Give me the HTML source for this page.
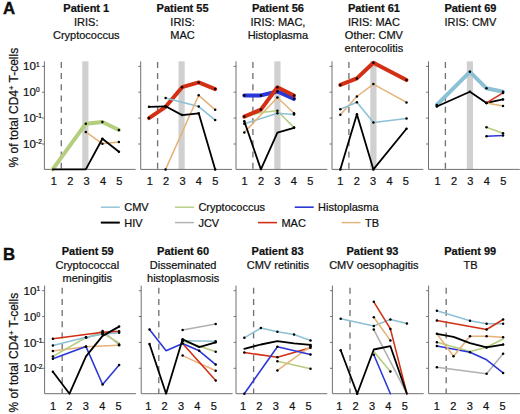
<!DOCTYPE html>
<html><head><meta charset="utf-8"><style>
html,body{margin:0;padding:0;background:#fff;}
body{width:520px;height:414px;overflow:hidden;}
svg{display:block;}
text{font-family:"Liberation Sans",sans-serif;fill:#111;stroke:#111;stroke-width:0.22px;}
.t{font-size:11px;}
.tb{font-size:11px;font-weight:bold;}
.sup{font-size:6.6px;}
.tl{font-size:11.6px;}
.sup2{font-size:7.5px;}
.yl{font-size:12px;}
.pl{font-size:16.8px;font-weight:bold;stroke:#000;stroke-width:0.35px;}
</style></head><body>
<svg width="520" height="414" viewBox="0 0 520 414">
<rect width="520" height="414" fill="#fff"/>
<rect x="82.25" y="61.3" width="6.2" height="108.1" fill="#d0d0d0"/>
<line x1="61.3" y1="61.9" x2="61.3" y2="169.4" stroke="#737373" stroke-width="1.35" stroke-dasharray="6 5.2"/>
<rect x="178.50" y="61.3" width="6.2" height="108.1" fill="#d0d0d0"/>
<line x1="157.6" y1="61.9" x2="157.6" y2="169.4" stroke="#737373" stroke-width="1.35" stroke-dasharray="6 5.2"/>
<rect x="274.30" y="61.3" width="6.2" height="108.1" fill="#d0d0d0"/>
<line x1="252.9" y1="61.9" x2="252.9" y2="169.4" stroke="#737373" stroke-width="1.35" stroke-dasharray="6 5.2"/>
<rect x="370.30" y="61.3" width="6.2" height="108.1" fill="#d0d0d0"/>
<line x1="348.9" y1="61.9" x2="348.9" y2="169.4" stroke="#737373" stroke-width="1.35" stroke-dasharray="6 5.2"/>
<rect x="466.80" y="61.3" width="6.2" height="108.1" fill="#d0d0d0"/>
<line x1="445.4" y1="61.9" x2="445.4" y2="169.4" stroke="#737373" stroke-width="1.35" stroke-dasharray="6 5.2"/>
<line x1="44.4" y1="61.3" x2="44.4" y2="169.4" stroke="#707070" stroke-width="1"/>
<line x1="44.4" y1="169.4" x2="135.7" y2="169.4" stroke="#707070" stroke-width="1"/>
<line x1="42.0" y1="66.4" x2="44.4" y2="66.4" stroke="#707070" stroke-width="1"/>
<line x1="42.0" y1="92.2" x2="44.4" y2="92.2" stroke="#707070" stroke-width="1"/>
<line x1="42.0" y1="118.1" x2="44.4" y2="118.1" stroke="#707070" stroke-width="1"/>
<line x1="42.0" y1="144.0" x2="44.4" y2="144.0" stroke="#707070" stroke-width="1"/>
<text x="53.8" y="184.9" class="t" text-anchor="middle">1</text>
<text x="70.2" y="184.9" class="t" text-anchor="middle">2</text>
<text x="86.6" y="184.9" class="t" text-anchor="middle">3</text>
<text x="103.0" y="184.9" class="t" text-anchor="middle">4</text>
<text x="119.4" y="184.9" class="t" text-anchor="middle">5</text>
<text x="35.9" y="70.1" class="tl" text-anchor="end">10</text>
<text x="36.0" y="66.6" class="sup">1</text>
<text x="35.9" y="95.9" class="tl" text-anchor="end">10</text>
<text x="36.0" y="92.4" class="sup">0</text>
<text x="35.9" y="121.8" class="tl" text-anchor="end">10</text>
<text x="36.0" y="118.3" class="sup">-1</text>
<text x="35.9" y="147.7" class="tl" text-anchor="end">10</text>
<text x="36.0" y="144.2" class="sup">-2</text>
<text x="86.3" y="11.5" class="tb" text-anchor="middle">Patient 1</text>
<text x="86.3" y="26.0" class="t" text-anchor="middle">IRIS:</text>
<text x="86.3" y="39.1" class="t" text-anchor="middle">Cryptococcus</text>
<line x1="140.7" y1="61.3" x2="140.7" y2="169.4" stroke="#707070" stroke-width="1"/>
<line x1="140.7" y1="169.4" x2="232.0" y2="169.4" stroke="#707070" stroke-width="1"/>
<line x1="138.3" y1="66.4" x2="140.7" y2="66.4" stroke="#707070" stroke-width="1"/>
<line x1="138.3" y1="92.2" x2="140.7" y2="92.2" stroke="#707070" stroke-width="1"/>
<line x1="138.3" y1="118.1" x2="140.7" y2="118.1" stroke="#707070" stroke-width="1"/>
<line x1="138.3" y1="144.0" x2="140.7" y2="144.0" stroke="#707070" stroke-width="1"/>
<text x="149.7" y="184.9" class="t" text-anchor="middle">1</text>
<text x="166.1" y="184.9" class="t" text-anchor="middle">2</text>
<text x="182.5" y="184.9" class="t" text-anchor="middle">3</text>
<text x="198.9" y="184.9" class="t" text-anchor="middle">4</text>
<text x="215.3" y="184.9" class="t" text-anchor="middle">5</text>
<text x="182.6" y="11.5" class="tb" text-anchor="middle">Patient 55</text>
<text x="182.6" y="26.0" class="t" text-anchor="middle">IRIS:</text>
<text x="182.6" y="39.1" class="t" text-anchor="middle">MAC</text>
<line x1="236.0" y1="61.3" x2="236.0" y2="169.4" stroke="#707070" stroke-width="1"/>
<line x1="236.0" y1="169.4" x2="327.3" y2="169.4" stroke="#707070" stroke-width="1"/>
<line x1="233.6" y1="66.4" x2="236.0" y2="66.4" stroke="#707070" stroke-width="1"/>
<line x1="233.6" y1="92.2" x2="236.0" y2="92.2" stroke="#707070" stroke-width="1"/>
<line x1="233.6" y1="118.1" x2="236.0" y2="118.1" stroke="#707070" stroke-width="1"/>
<line x1="233.6" y1="144.0" x2="236.0" y2="144.0" stroke="#707070" stroke-width="1"/>
<text x="244.6" y="184.9" class="t" text-anchor="middle">1</text>
<text x="261.0" y="184.9" class="t" text-anchor="middle">2</text>
<text x="277.4" y="184.9" class="t" text-anchor="middle">3</text>
<text x="293.8" y="184.9" class="t" text-anchor="middle">4</text>
<text x="310.2" y="184.9" class="t" text-anchor="middle">5</text>
<text x="277.9" y="11.5" class="tb" text-anchor="middle">Patient 56</text>
<text x="277.9" y="26.0" class="t" text-anchor="middle">IRIS: MAC,</text>
<text x="277.9" y="39.1" class="t" text-anchor="middle">Histoplasma</text>
<line x1="332.0" y1="61.3" x2="332.0" y2="169.4" stroke="#707070" stroke-width="1"/>
<line x1="332.0" y1="169.4" x2="423.3" y2="169.4" stroke="#707070" stroke-width="1"/>
<line x1="329.6" y1="66.4" x2="332.0" y2="66.4" stroke="#707070" stroke-width="1"/>
<line x1="329.6" y1="92.2" x2="332.0" y2="92.2" stroke="#707070" stroke-width="1"/>
<line x1="329.6" y1="118.1" x2="332.0" y2="118.1" stroke="#707070" stroke-width="1"/>
<line x1="329.6" y1="144.0" x2="332.0" y2="144.0" stroke="#707070" stroke-width="1"/>
<text x="340.3" y="184.9" class="t" text-anchor="middle">1</text>
<text x="356.7" y="184.9" class="t" text-anchor="middle">2</text>
<text x="373.1" y="184.9" class="t" text-anchor="middle">3</text>
<text x="389.5" y="184.9" class="t" text-anchor="middle">4</text>
<text x="405.9" y="184.9" class="t" text-anchor="middle">5</text>
<text x="373.9" y="11.5" class="tb" text-anchor="middle">Patient 61</text>
<text x="373.9" y="26.0" class="t" text-anchor="middle">IRIS: MAC</text>
<text x="373.9" y="39.1" class="t" text-anchor="middle">Other: CMV</text>
<text x="373.9" y="52.2" class="t" text-anchor="middle">enterocolitis</text>
<line x1="428.5" y1="61.3" x2="428.5" y2="169.4" stroke="#707070" stroke-width="1"/>
<line x1="428.5" y1="169.4" x2="519.8" y2="169.4" stroke="#707070" stroke-width="1"/>
<line x1="426.1" y1="66.4" x2="428.5" y2="66.4" stroke="#707070" stroke-width="1"/>
<line x1="426.1" y1="92.2" x2="428.5" y2="92.2" stroke="#707070" stroke-width="1"/>
<line x1="426.1" y1="118.1" x2="428.5" y2="118.1" stroke="#707070" stroke-width="1"/>
<line x1="426.1" y1="144.0" x2="428.5" y2="144.0" stroke="#707070" stroke-width="1"/>
<text x="437.6" y="184.9" class="t" text-anchor="middle">1</text>
<text x="454.0" y="184.9" class="t" text-anchor="middle">2</text>
<text x="470.4" y="184.9" class="t" text-anchor="middle">3</text>
<text x="486.8" y="184.9" class="t" text-anchor="middle">4</text>
<text x="503.2" y="184.9" class="t" text-anchor="middle">5</text>
<text x="470.4" y="11.5" class="tb" text-anchor="middle">Patient 69</text>
<text x="470.4" y="26.0" class="t" text-anchor="middle">IRIS: CMV</text>
<polyline points="52.7,169.4 85.8,123.7 102.4,122.0 118.9,130.0" fill="none" stroke="#b5cd7e" stroke-width="4.00" stroke-linejoin="round" stroke-linecap="round"/>
<polyline points="85.8,131.9 102.4,143.8 118.9,142.1" fill="none" stroke="#e6b278" stroke-width="1.55" stroke-linejoin="round" stroke-linecap="round"/>
<polyline points="52.7,169.4 85.8,169.4 102.4,138.7 118.9,151.7" fill="none" stroke="#000000" stroke-width="1.80" stroke-linejoin="round" stroke-linecap="round"/>
<circle cx="85.8" cy="123.7" r="1.25" fill="#000"/>
<circle cx="102.4" cy="122.0" r="1.25" fill="#000"/>
<circle cx="118.9" cy="130.0" r="1.25" fill="#000"/>
<circle cx="85.8" cy="131.9" r="1.25" fill="#000"/>
<circle cx="102.4" cy="143.8" r="1.25" fill="#000"/>
<circle cx="118.9" cy="142.1" r="1.25" fill="#000"/>
<circle cx="102.4" cy="138.7" r="1.25" fill="#000"/>
<circle cx="118.9" cy="151.7" r="1.25" fill="#000"/>
<polyline points="149.0,118.1 165.6,106.8 182.1,87.2 198.7,82.4 215.2,89.1" fill="none" stroke="#d22f14" stroke-width="4.00" stroke-linejoin="round" stroke-linecap="round"/>
<polyline points="165.6,98.0 198.7,106.6 215.2,120.1" fill="none" stroke="#8cc1d5" stroke-width="1.55" stroke-linejoin="round" stroke-linecap="round"/>
<polyline points="165.6,169.4 198.7,95.3 215.2,109.8" fill="none" stroke="#e6b278" stroke-width="1.55" stroke-linejoin="round" stroke-linecap="round"/>
<polyline points="149.0,106.8 165.6,106.3 182.1,115.1 198.7,113.3 215.2,169.4" fill="none" stroke="#000000" stroke-width="1.80" stroke-linejoin="round" stroke-linecap="round"/>
<circle cx="149.0" cy="118.1" r="1.25" fill="#000"/>
<circle cx="165.6" cy="106.8" r="1.25" fill="#000"/>
<circle cx="182.1" cy="87.2" r="1.25" fill="#000"/>
<circle cx="198.7" cy="82.4" r="1.25" fill="#000"/>
<circle cx="215.2" cy="89.1" r="1.25" fill="#000"/>
<circle cx="165.6" cy="98.0" r="1.25" fill="#000"/>
<circle cx="198.7" cy="106.6" r="1.25" fill="#000"/>
<circle cx="215.2" cy="120.1" r="1.25" fill="#000"/>
<circle cx="165.6" cy="169.4" r="1.25" fill="#000"/>
<circle cx="198.7" cy="95.3" r="1.25" fill="#000"/>
<circle cx="215.2" cy="109.8" r="1.25" fill="#000"/>
<circle cx="149.0" cy="106.8" r="1.25" fill="#000"/>
<circle cx="165.6" cy="106.3" r="1.25" fill="#000"/>
<circle cx="182.1" cy="115.1" r="1.25" fill="#000"/>
<circle cx="198.7" cy="113.3" r="1.25" fill="#000"/>
<circle cx="215.2" cy="169.4" r="1.25" fill="#000"/>
<polyline points="244.3,117.0 260.9,112.5 277.4,110.8 294.0,127.6" fill="none" stroke="#b5cd7e" stroke-width="1.55" stroke-linejoin="round" stroke-linecap="round"/>
<polyline points="244.3,123.8 277.4,113.3 294.0,114.5" fill="none" stroke="#8cc1d5" stroke-width="1.55" stroke-linejoin="round" stroke-linecap="round"/>
<polyline points="244.3,132.4 277.4,97.5 294.0,113.2" fill="none" stroke="#e6b278" stroke-width="1.55" stroke-linejoin="round" stroke-linecap="round"/>
<polyline points="244.3,121.3 260.9,169.4 277.4,132.6 294.0,127.8" fill="none" stroke="#000000" stroke-width="1.80" stroke-linejoin="round" stroke-linecap="round"/>
<polyline points="244.3,95.4 260.9,95.4 277.4,91.5 294.0,98.8" fill="none" stroke="#2a36d6" stroke-width="4.00" stroke-linejoin="round" stroke-linecap="round"/>
<polyline points="244.3,116.6 260.9,109.6 277.4,87.3 294.0,95.5" fill="none" stroke="#d22f14" stroke-width="4.00" stroke-linejoin="round" stroke-linecap="round"/>
<circle cx="277.4" cy="110.8" r="1.25" fill="#000"/>
<circle cx="294.0" cy="127.6" r="1.25" fill="#000"/>
<circle cx="244.3" cy="123.8" r="1.25" fill="#000"/>
<circle cx="277.4" cy="113.3" r="1.25" fill="#000"/>
<circle cx="294.0" cy="114.5" r="1.25" fill="#000"/>
<circle cx="244.3" cy="132.4" r="1.25" fill="#000"/>
<circle cx="277.4" cy="97.5" r="1.25" fill="#000"/>
<circle cx="294.0" cy="113.2" r="1.25" fill="#000"/>
<circle cx="244.3" cy="121.3" r="1.25" fill="#000"/>
<circle cx="294.0" cy="127.8" r="1.25" fill="#000"/>
<circle cx="244.3" cy="95.4" r="1.25" fill="#000"/>
<circle cx="260.9" cy="95.4" r="1.25" fill="#000"/>
<circle cx="277.4" cy="91.5" r="1.25" fill="#000"/>
<circle cx="294.0" cy="98.8" r="1.25" fill="#000"/>
<circle cx="244.3" cy="116.6" r="1.25" fill="#000"/>
<circle cx="260.9" cy="109.6" r="1.25" fill="#000"/>
<circle cx="277.4" cy="87.3" r="1.25" fill="#000"/>
<circle cx="294.0" cy="95.5" r="1.25" fill="#000"/>
<polyline points="340.3,114.7 356.9,96.5 373.4,84.1 406.5,102.4" fill="none" stroke="#e6b278" stroke-width="1.55" stroke-linejoin="round" stroke-linecap="round"/>
<polyline points="340.3,109.2 356.9,102.3 373.4,122.6 406.5,118.6" fill="none" stroke="#8cc1d5" stroke-width="1.55" stroke-linejoin="round" stroke-linecap="round"/>
<polyline points="340.3,169.4 356.9,114.2 373.4,169.4 406.5,128.8" fill="none" stroke="#000000" stroke-width="1.80" stroke-linejoin="round" stroke-linecap="round"/>
<polyline points="340.3,84.9 356.9,78.4 373.4,62.8 406.5,80.1" fill="none" stroke="#d22f14" stroke-width="4.00" stroke-linejoin="round" stroke-linecap="round"/>
<circle cx="340.3" cy="114.7" r="1.25" fill="#000"/>
<circle cx="356.9" cy="96.5" r="1.25" fill="#000"/>
<circle cx="373.4" cy="84.1" r="1.25" fill="#000"/>
<circle cx="406.5" cy="102.4" r="1.25" fill="#000"/>
<circle cx="340.3" cy="109.2" r="1.25" fill="#000"/>
<circle cx="356.9" cy="102.3" r="1.25" fill="#000"/>
<circle cx="373.4" cy="122.6" r="1.25" fill="#000"/>
<circle cx="406.5" cy="118.6" r="1.25" fill="#000"/>
<circle cx="340.3" cy="169.4" r="1.25" fill="#000"/>
<circle cx="356.9" cy="114.2" r="1.25" fill="#000"/>
<circle cx="373.4" cy="169.4" r="1.25" fill="#000"/>
<circle cx="406.5" cy="128.8" r="1.25" fill="#000"/>
<circle cx="340.3" cy="84.9" r="1.25" fill="#000"/>
<circle cx="356.9" cy="78.4" r="1.25" fill="#000"/>
<circle cx="373.4" cy="62.8" r="1.25" fill="#000"/>
<circle cx="406.5" cy="80.1" r="1.25" fill="#000"/>
<polyline points="436.8,104.9 469.9,71.8 486.5,88.3 503.0,91.8" fill="none" stroke="#8cc1d5" stroke-width="4.00" stroke-linejoin="round" stroke-linecap="round"/>
<polyline points="436.8,106.5 469.9,91.7 486.5,102.9 503.0,99.4" fill="none" stroke="#000000" stroke-width="1.80" stroke-linejoin="round" stroke-linecap="round"/>
<polyline points="486.5,102.9 503.0,92.9" fill="none" stroke="#d22f14" stroke-width="1.55" stroke-linejoin="round" stroke-linecap="round"/>
<polyline points="486.5,102.9 503.0,106.0" fill="none" stroke="#e6b278" stroke-width="1.55" stroke-linejoin="round" stroke-linecap="round"/>
<polyline points="486.5,127.2 503.0,133.2" fill="none" stroke="#b5cd7e" stroke-width="1.55" stroke-linejoin="round" stroke-linecap="round"/>
<polyline points="486.5,136.2 503.0,135.4" fill="none" stroke="#2a36d6" stroke-width="1.55" stroke-linejoin="round" stroke-linecap="round"/>
<circle cx="436.8" cy="104.9" r="1.25" fill="#000"/>
<circle cx="469.9" cy="71.8" r="1.25" fill="#000"/>
<circle cx="486.5" cy="88.3" r="1.25" fill="#000"/>
<circle cx="503.0" cy="91.8" r="1.25" fill="#000"/>
<circle cx="436.8" cy="106.5" r="1.25" fill="#000"/>
<circle cx="469.9" cy="91.7" r="1.25" fill="#000"/>
<circle cx="486.5" cy="102.9" r="1.25" fill="#000"/>
<circle cx="503.0" cy="99.4" r="1.25" fill="#000"/>
<circle cx="486.5" cy="102.9" r="1.25" fill="#000"/>
<circle cx="503.0" cy="92.9" r="1.25" fill="#000"/>
<circle cx="486.5" cy="102.9" r="1.25" fill="#000"/>
<circle cx="503.0" cy="106.0" r="1.25" fill="#000"/>
<circle cx="486.5" cy="127.2" r="1.25" fill="#000"/>
<circle cx="503.0" cy="133.2" r="1.25" fill="#000"/>
<circle cx="486.5" cy="136.2" r="1.25" fill="#000"/>
<circle cx="503.0" cy="135.4" r="1.25" fill="#000"/>
<line x1="62.2" y1="287.7" x2="62.2" y2="393.7" stroke="#737373" stroke-width="1.35" stroke-dasharray="6 5.2"/>
<line x1="158.8" y1="287.7" x2="158.8" y2="393.7" stroke="#737373" stroke-width="1.35" stroke-dasharray="6 5.2"/>
<line x1="253.6" y1="287.7" x2="253.6" y2="393.7" stroke="#737373" stroke-width="1.35" stroke-dasharray="6 5.2"/>
<line x1="350.0" y1="287.7" x2="350.0" y2="393.7" stroke="#737373" stroke-width="1.35" stroke-dasharray="6 5.2"/>
<line x1="446.2" y1="287.7" x2="446.2" y2="393.7" stroke="#737373" stroke-width="1.35" stroke-dasharray="6 5.2"/>
<line x1="44.6" y1="285.6" x2="44.6" y2="393.7" stroke="#707070" stroke-width="1"/>
<line x1="44.6" y1="393.7" x2="135.9" y2="393.7" stroke="#707070" stroke-width="1"/>
<line x1="42.2" y1="290.7" x2="44.6" y2="290.7" stroke="#707070" stroke-width="1"/>
<line x1="42.2" y1="316.5" x2="44.6" y2="316.5" stroke="#707070" stroke-width="1"/>
<line x1="42.2" y1="342.4" x2="44.6" y2="342.4" stroke="#707070" stroke-width="1"/>
<line x1="42.2" y1="368.3" x2="44.6" y2="368.3" stroke="#707070" stroke-width="1"/>
<text x="53.0" y="410.1" class="t" text-anchor="middle">1</text>
<text x="69.4" y="410.1" class="t" text-anchor="middle">2</text>
<text x="85.8" y="410.1" class="t" text-anchor="middle">3</text>
<text x="102.2" y="410.1" class="t" text-anchor="middle">4</text>
<text x="118.6" y="410.1" class="t" text-anchor="middle">5</text>
<text x="36.5" y="294.8" class="tl" text-anchor="end">10</text>
<text x="36.6" y="291.3" class="sup">1</text>
<text x="36.5" y="320.6" class="tl" text-anchor="end">10</text>
<text x="36.6" y="317.1" class="sup">0</text>
<text x="36.5" y="346.5" class="tl" text-anchor="end">10</text>
<text x="36.6" y="343.0" class="sup">-1</text>
<text x="36.5" y="372.4" class="tl" text-anchor="end">10</text>
<text x="36.6" y="368.9" class="sup">-2</text>
<text x="87.7" y="254.8" class="tb" text-anchor="middle">Patient 59</text>
<text x="87.3" y="269.3" class="t" text-anchor="middle">Cryptococcal</text>
<text x="87.3" y="282.4" class="t" text-anchor="middle">meningitis</text>
<line x1="141.2" y1="285.6" x2="141.2" y2="393.7" stroke="#707070" stroke-width="1"/>
<line x1="141.2" y1="393.7" x2="232.5" y2="393.7" stroke="#707070" stroke-width="1"/>
<line x1="138.8" y1="290.7" x2="141.2" y2="290.7" stroke="#707070" stroke-width="1"/>
<line x1="138.8" y1="316.5" x2="141.2" y2="316.5" stroke="#707070" stroke-width="1"/>
<line x1="138.8" y1="342.4" x2="141.2" y2="342.4" stroke="#707070" stroke-width="1"/>
<line x1="138.8" y1="368.3" x2="141.2" y2="368.3" stroke="#707070" stroke-width="1"/>
<text x="148.2" y="410.1" class="t" text-anchor="middle">1</text>
<text x="164.6" y="410.1" class="t" text-anchor="middle">2</text>
<text x="181.0" y="410.1" class="t" text-anchor="middle">3</text>
<text x="197.4" y="410.1" class="t" text-anchor="middle">4</text>
<text x="213.8" y="410.1" class="t" text-anchor="middle">5</text>
<text x="183.1" y="254.8" class="tb" text-anchor="middle">Patient 60</text>
<text x="183.1" y="269.3" class="t" text-anchor="middle">Disseminated</text>
<text x="183.1" y="282.4" class="t" text-anchor="middle">histoplasmosis</text>
<line x1="236.0" y1="285.6" x2="236.0" y2="393.7" stroke="#707070" stroke-width="1"/>
<line x1="236.0" y1="393.7" x2="327.3" y2="393.7" stroke="#707070" stroke-width="1"/>
<line x1="233.6" y1="290.7" x2="236.0" y2="290.7" stroke="#707070" stroke-width="1"/>
<line x1="233.6" y1="316.5" x2="236.0" y2="316.5" stroke="#707070" stroke-width="1"/>
<line x1="233.6" y1="342.4" x2="236.0" y2="342.4" stroke="#707070" stroke-width="1"/>
<line x1="233.6" y1="368.3" x2="236.0" y2="368.3" stroke="#707070" stroke-width="1"/>
<text x="243.0" y="410.1" class="t" text-anchor="middle">1</text>
<text x="259.4" y="410.1" class="t" text-anchor="middle">2</text>
<text x="275.8" y="410.1" class="t" text-anchor="middle">3</text>
<text x="292.2" y="410.1" class="t" text-anchor="middle">4</text>
<text x="308.6" y="410.1" class="t" text-anchor="middle">5</text>
<text x="277.6" y="254.8" class="tb" text-anchor="middle">Patient 83</text>
<text x="277.9" y="269.3" class="t" text-anchor="middle">CMV retinitis</text>
<line x1="332.4" y1="285.6" x2="332.4" y2="393.7" stroke="#707070" stroke-width="1"/>
<line x1="332.4" y1="393.7" x2="423.7" y2="393.7" stroke="#707070" stroke-width="1"/>
<line x1="330.0" y1="290.7" x2="332.4" y2="290.7" stroke="#707070" stroke-width="1"/>
<line x1="330.0" y1="316.5" x2="332.4" y2="316.5" stroke="#707070" stroke-width="1"/>
<line x1="330.0" y1="342.4" x2="332.4" y2="342.4" stroke="#707070" stroke-width="1"/>
<line x1="330.0" y1="368.3" x2="332.4" y2="368.3" stroke="#707070" stroke-width="1"/>
<text x="339.2" y="410.1" class="t" text-anchor="middle">1</text>
<text x="355.6" y="410.1" class="t" text-anchor="middle">2</text>
<text x="372.0" y="410.1" class="t" text-anchor="middle">3</text>
<text x="388.4" y="410.1" class="t" text-anchor="middle">4</text>
<text x="404.8" y="410.1" class="t" text-anchor="middle">5</text>
<text x="372.5" y="254.8" class="tb" text-anchor="middle">Patient 93</text>
<text x="373.8" y="269.3" class="t" text-anchor="middle">CMV oesophagitis</text>
<line x1="428.6" y1="285.6" x2="428.6" y2="393.7" stroke="#707070" stroke-width="1"/>
<line x1="428.6" y1="393.7" x2="519.9" y2="393.7" stroke="#707070" stroke-width="1"/>
<line x1="426.2" y1="290.7" x2="428.6" y2="290.7" stroke="#707070" stroke-width="1"/>
<line x1="426.2" y1="316.5" x2="428.6" y2="316.5" stroke="#707070" stroke-width="1"/>
<line x1="426.2" y1="342.4" x2="428.6" y2="342.4" stroke="#707070" stroke-width="1"/>
<line x1="426.2" y1="368.3" x2="428.6" y2="368.3" stroke="#707070" stroke-width="1"/>
<text x="436.9" y="410.1" class="t" text-anchor="middle">1</text>
<text x="453.3" y="410.1" class="t" text-anchor="middle">2</text>
<text x="469.7" y="410.1" class="t" text-anchor="middle">3</text>
<text x="486.1" y="410.1" class="t" text-anchor="middle">4</text>
<text x="502.5" y="410.1" class="t" text-anchor="middle">5</text>
<text x="470.2" y="254.8" class="tb" text-anchor="middle">Patient 99</text>
<text x="470.5" y="269.3" class="t" text-anchor="middle">TB</text>
<polyline points="52.9,351.1 86.0,346.8 119.1,345.2" fill="none" stroke="#e6b278" stroke-width="1.55" stroke-linejoin="round" stroke-linecap="round"/>
<polyline points="86.0,338.5 102.6,331.0 119.1,344.6" fill="none" stroke="#b0b0b0" stroke-width="1.55" stroke-linejoin="round" stroke-linecap="round"/>
<polyline points="52.9,356.4 86.0,337.5 102.6,333.4 119.1,342.8" fill="none" stroke="#b5cd7e" stroke-width="1.55" stroke-linejoin="round" stroke-linecap="round"/>
<polyline points="52.9,345.5 86.0,337.3 102.6,334.3 119.1,332.7" fill="none" stroke="#8cc1d5" stroke-width="1.55" stroke-linejoin="round" stroke-linecap="round"/>
<polyline points="52.9,338.8 102.6,332.3 119.1,331.2" fill="none" stroke="#d22f14" stroke-width="1.55" stroke-linejoin="round" stroke-linecap="round"/>
<polyline points="52.9,358.7 86.0,346.6 102.6,384.5 119.1,365.1" fill="none" stroke="#2a36d6" stroke-width="1.55" stroke-linejoin="round" stroke-linecap="round"/>
<polyline points="52.9,371.8 69.5,393.7 86.0,356.4 102.6,335.9 119.1,326.6" fill="none" stroke="#000000" stroke-width="1.80" stroke-linejoin="round" stroke-linecap="round"/>
<circle cx="52.9" cy="351.1" r="1.25" fill="#000"/>
<circle cx="86.0" cy="346.8" r="1.25" fill="#000"/>
<circle cx="119.1" cy="345.2" r="1.25" fill="#000"/>
<circle cx="102.6" cy="331.0" r="1.25" fill="#000"/>
<circle cx="119.1" cy="344.6" r="1.25" fill="#000"/>
<circle cx="52.9" cy="356.4" r="1.25" fill="#000"/>
<circle cx="86.0" cy="337.5" r="1.25" fill="#000"/>
<circle cx="102.6" cy="333.4" r="1.25" fill="#000"/>
<circle cx="52.9" cy="345.5" r="1.25" fill="#000"/>
<circle cx="86.0" cy="337.3" r="1.25" fill="#000"/>
<circle cx="102.6" cy="334.3" r="1.25" fill="#000"/>
<circle cx="119.1" cy="332.7" r="1.25" fill="#000"/>
<circle cx="52.9" cy="338.8" r="1.25" fill="#000"/>
<circle cx="102.6" cy="332.3" r="1.25" fill="#000"/>
<circle cx="119.1" cy="331.2" r="1.25" fill="#000"/>
<circle cx="52.9" cy="358.7" r="1.25" fill="#000"/>
<circle cx="86.0" cy="346.6" r="1.25" fill="#000"/>
<circle cx="102.6" cy="384.5" r="1.25" fill="#000"/>
<circle cx="119.1" cy="365.1" r="1.25" fill="#000"/>
<circle cx="52.9" cy="371.8" r="1.25" fill="#000"/>
<circle cx="119.1" cy="326.6" r="1.25" fill="#000"/>
<polyline points="182.6,329.9 215.7,324.1" fill="none" stroke="#b0b0b0" stroke-width="1.55" stroke-linejoin="round" stroke-linecap="round"/>
<polyline points="182.6,340.8 215.7,341.2" fill="none" stroke="#8cc1d5" stroke-width="1.55" stroke-linejoin="round" stroke-linecap="round"/>
<polyline points="182.6,341.3 199.2,346.0 215.7,351.7" fill="none" stroke="#b5cd7e" stroke-width="1.55" stroke-linejoin="round" stroke-linecap="round"/>
<polyline points="182.6,355.6 215.7,370.8" fill="none" stroke="#e6b278" stroke-width="1.55" stroke-linejoin="round" stroke-linecap="round"/>
<polyline points="182.6,343.5 215.7,380.6" fill="none" stroke="#d22f14" stroke-width="1.55" stroke-linejoin="round" stroke-linecap="round"/>
<polyline points="149.5,329.4 166.1,350.8 182.6,343.5 199.2,350.8 215.7,364.6" fill="none" stroke="#2a36d6" stroke-width="1.55" stroke-linejoin="round" stroke-linecap="round"/>
<polyline points="149.5,344.0 166.1,393.7 182.6,339.2 199.2,347.1 215.7,342.3" fill="none" stroke="#000000" stroke-width="1.80" stroke-linejoin="round" stroke-linecap="round"/>
<circle cx="182.6" cy="329.9" r="1.25" fill="#000"/>
<circle cx="215.7" cy="324.1" r="1.25" fill="#000"/>
<circle cx="182.6" cy="340.8" r="1.25" fill="#000"/>
<circle cx="215.7" cy="341.2" r="1.25" fill="#000"/>
<circle cx="182.6" cy="341.3" r="1.25" fill="#000"/>
<circle cx="215.7" cy="351.7" r="1.25" fill="#000"/>
<circle cx="182.6" cy="355.6" r="1.25" fill="#000"/>
<circle cx="215.7" cy="370.8" r="1.25" fill="#000"/>
<circle cx="182.6" cy="343.5" r="1.25" fill="#000"/>
<circle cx="215.7" cy="380.6" r="1.25" fill="#000"/>
<circle cx="149.5" cy="329.4" r="1.25" fill="#000"/>
<circle cx="199.2" cy="350.8" r="1.25" fill="#000"/>
<circle cx="215.7" cy="364.6" r="1.25" fill="#000"/>
<circle cx="149.5" cy="344.0" r="1.25" fill="#000"/>
<circle cx="182.6" cy="339.2" r="1.25" fill="#000"/>
<circle cx="215.7" cy="342.3" r="1.25" fill="#000"/>
<polyline points="244.3,337.8 260.9,328.0 277.4,331.7 294.0,334.6 310.5,340.5" fill="none" stroke="#8cc1d5" stroke-width="1.55" stroke-linejoin="round" stroke-linecap="round"/>
<polyline points="244.3,352.5 277.4,357.3 310.5,347.8" fill="none" stroke="#d22f14" stroke-width="1.55" stroke-linejoin="round" stroke-linecap="round"/>
<polyline points="277.4,361.2 310.5,368.7" fill="none" stroke="#b5cd7e" stroke-width="1.55" stroke-linejoin="round" stroke-linecap="round"/>
<polyline points="277.4,370.4 310.5,346.3" fill="none" stroke="#e6b278" stroke-width="1.55" stroke-linejoin="round" stroke-linecap="round"/>
<polyline points="244.3,393.7 277.4,346.8 310.5,354.6" fill="none" stroke="#2a36d6" stroke-width="1.55" stroke-linejoin="round" stroke-linecap="round"/>
<polyline points="244.3,348.8 260.9,344.5 277.4,341.2 294.0,343.4 310.5,344.9" fill="none" stroke="#000000" stroke-width="1.80" stroke-linejoin="round" stroke-linecap="round"/>
<circle cx="244.3" cy="337.8" r="1.25" fill="#000"/>
<circle cx="260.9" cy="328.0" r="1.25" fill="#000"/>
<circle cx="277.4" cy="331.7" r="1.25" fill="#000"/>
<circle cx="294.0" cy="334.6" r="1.25" fill="#000"/>
<circle cx="310.5" cy="340.5" r="1.25" fill="#000"/>
<circle cx="244.3" cy="352.5" r="1.25" fill="#000"/>
<circle cx="277.4" cy="357.3" r="1.25" fill="#000"/>
<circle cx="310.5" cy="347.8" r="1.25" fill="#000"/>
<circle cx="277.4" cy="361.2" r="1.25" fill="#000"/>
<circle cx="310.5" cy="368.7" r="1.25" fill="#000"/>
<circle cx="277.4" cy="370.4" r="1.25" fill="#000"/>
<circle cx="310.5" cy="346.3" r="1.25" fill="#000"/>
<circle cx="244.3" cy="393.7" r="1.25" fill="#000"/>
<circle cx="277.4" cy="346.8" r="1.25" fill="#000"/>
<circle cx="310.5" cy="354.6" r="1.25" fill="#000"/>
<circle cx="310.5" cy="344.9" r="1.25" fill="#000"/>
<polyline points="340.7,318.7 373.8,326.0 390.4,319.4 406.9,323.5" fill="none" stroke="#8cc1d5" stroke-width="1.55" stroke-linejoin="round" stroke-linecap="round"/>
<polyline points="373.8,329.6 406.9,393.7" fill="none" stroke="#b0b0b0" stroke-width="1.55" stroke-linejoin="round" stroke-linecap="round"/>
<polyline points="373.8,317.2 390.4,340.6" fill="none" stroke="#e6b278" stroke-width="1.55" stroke-linejoin="round" stroke-linecap="round"/>
<polyline points="373.8,351.5 390.4,371.5" fill="none" stroke="#b5cd7e" stroke-width="1.55" stroke-linejoin="round" stroke-linecap="round"/>
<polyline points="373.8,354.7 390.4,393.7" fill="none" stroke="#2a36d6" stroke-width="1.55" stroke-linejoin="round" stroke-linecap="round"/>
<polyline points="373.8,301.8 390.4,328.9 406.9,393.7" fill="none" stroke="#d22f14" stroke-width="1.55" stroke-linejoin="round" stroke-linecap="round"/>
<polyline points="340.7,350.3 357.2,393.7 373.8,349.5 390.4,346.2 406.9,393.7" fill="none" stroke="#000000" stroke-width="1.80" stroke-linejoin="round" stroke-linecap="round"/>
<circle cx="340.7" cy="318.7" r="1.25" fill="#000"/>
<circle cx="373.8" cy="326.0" r="1.25" fill="#000"/>
<circle cx="390.4" cy="319.4" r="1.25" fill="#000"/>
<circle cx="406.9" cy="323.5" r="1.25" fill="#000"/>
<circle cx="373.8" cy="329.6" r="1.25" fill="#000"/>
<circle cx="373.8" cy="317.2" r="1.25" fill="#000"/>
<circle cx="390.4" cy="340.6" r="1.25" fill="#000"/>
<circle cx="390.4" cy="371.5" r="1.25" fill="#000"/>
<circle cx="373.8" cy="354.7" r="1.25" fill="#000"/>
<circle cx="373.8" cy="301.8" r="1.25" fill="#000"/>
<circle cx="390.4" cy="328.9" r="1.25" fill="#000"/>
<circle cx="340.7" cy="350.3" r="1.25" fill="#000"/>
<circle cx="357.2" cy="393.7" r="1.25" fill="#000"/>
<polyline points="436.9,367.2 486.6,373.7 503.1,353.7" fill="none" stroke="#b0b0b0" stroke-width="1.55" stroke-linejoin="round" stroke-linecap="round"/>
<polyline points="436.9,342.2 470.0,351.5 486.6,347.3 503.1,339.0" fill="none" stroke="#b5cd7e" stroke-width="1.55" stroke-linejoin="round" stroke-linecap="round"/>
<polyline points="436.9,346.0 470.0,352.2 486.6,359.8 503.1,372.9" fill="none" stroke="#2a36d6" stroke-width="1.55" stroke-linejoin="round" stroke-linecap="round"/>
<polyline points="436.9,310.8 470.0,320.8 486.6,323.8 503.1,323.8" fill="none" stroke="#8cc1d5" stroke-width="1.55" stroke-linejoin="round" stroke-linecap="round"/>
<polyline points="436.9,320.5 486.6,329.5 503.1,319.5" fill="none" stroke="#d22f14" stroke-width="1.55" stroke-linejoin="round" stroke-linecap="round"/>
<polyline points="436.9,333.8 453.5,356.2 470.0,336.2 486.6,336.2 503.1,337.2" fill="none" stroke="#e6b278" stroke-width="1.55" stroke-linejoin="round" stroke-linecap="round"/>
<polyline points="436.9,333.8 453.5,336.9 470.0,343.1 486.6,347.4 503.1,344.6" fill="none" stroke="#000000" stroke-width="1.80" stroke-linejoin="round" stroke-linecap="round"/>
<circle cx="436.9" cy="367.2" r="1.25" fill="#000"/>
<circle cx="486.6" cy="373.7" r="1.25" fill="#000"/>
<circle cx="503.1" cy="353.7" r="1.25" fill="#000"/>
<circle cx="436.9" cy="342.2" r="1.25" fill="#000"/>
<circle cx="486.6" cy="347.3" r="1.25" fill="#000"/>
<circle cx="436.9" cy="346.0" r="1.25" fill="#000"/>
<circle cx="470.0" cy="352.2" r="1.25" fill="#000"/>
<circle cx="503.1" cy="372.9" r="1.25" fill="#000"/>
<circle cx="436.9" cy="310.8" r="1.25" fill="#000"/>
<circle cx="470.0" cy="320.8" r="1.25" fill="#000"/>
<circle cx="486.6" cy="323.8" r="1.25" fill="#000"/>
<circle cx="503.1" cy="323.8" r="1.25" fill="#000"/>
<circle cx="436.9" cy="320.5" r="1.25" fill="#000"/>
<circle cx="486.6" cy="329.5" r="1.25" fill="#000"/>
<circle cx="503.1" cy="319.5" r="1.25" fill="#000"/>
<circle cx="453.5" cy="356.2" r="1.25" fill="#000"/>
<circle cx="470.0" cy="336.2" r="1.25" fill="#000"/>
<circle cx="486.6" cy="336.2" r="1.25" fill="#000"/>
<circle cx="503.1" cy="337.2" r="1.25" fill="#000"/>
<circle cx="436.9" cy="333.8" r="1.25" fill="#000"/>
<circle cx="486.6" cy="347.4" r="1.25" fill="#000"/>
<circle cx="503.1" cy="344.6" r="1.25" fill="#000"/>
<text x="0" y="0" class="yl" text-anchor="middle" transform="translate(17.6,107.6) rotate(-90)">% of total CD4<tspan class="sup2" dy="-4">+</tspan><tspan dy="4"> T-cells</tspan></text>
<text x="0" y="0" class="yl" text-anchor="middle" transform="translate(17.6,352.6) rotate(-90)">% of total CD4<tspan class="sup2" dy="-4">+</tspan><tspan dy="4"> T-cells</tspan></text>
<text x="2.9" y="14.4" class="pl">A</text>
<text x="3.1" y="260.4" class="pl">B</text>
<line x1="100.8" y1="207.2" x2="119.8" y2="207.2" stroke="#8cc1d5" stroke-width="1.4"/>
<text x="124.2" y="211.1" class="t">CMV</text>
<line x1="175.0" y1="207.2" x2="194.0" y2="207.2" stroke="#b5cd7e" stroke-width="1.4"/>
<text x="198.4" y="211.1" class="t">Cryptococcus</text>
<line x1="294.7" y1="207.2" x2="313.7" y2="207.2" stroke="#2a36d6" stroke-width="1.6"/>
<text x="318.1" y="211.1" class="t">Histoplasma</text>
<line x1="100.8" y1="222.6" x2="119.8" y2="222.6" stroke="#000000" stroke-width="2.0"/>
<text x="124.2" y="226.5" class="t">HIV</text>
<line x1="175.0" y1="222.6" x2="194.0" y2="222.6" stroke="#b0b0b0" stroke-width="1.4"/>
<text x="198.4" y="226.5" class="t">JCV</text>
<line x1="258.0" y1="222.6" x2="277.0" y2="222.6" stroke="#d22f14" stroke-width="1.6"/>
<text x="281.4" y="226.5" class="t">MAC</text>
<line x1="341.6" y1="222.6" x2="360.6" y2="222.6" stroke="#e6b278" stroke-width="1.4"/>
<text x="365.0" y="226.5" class="t">TB</text>
</svg>
</body></html>
